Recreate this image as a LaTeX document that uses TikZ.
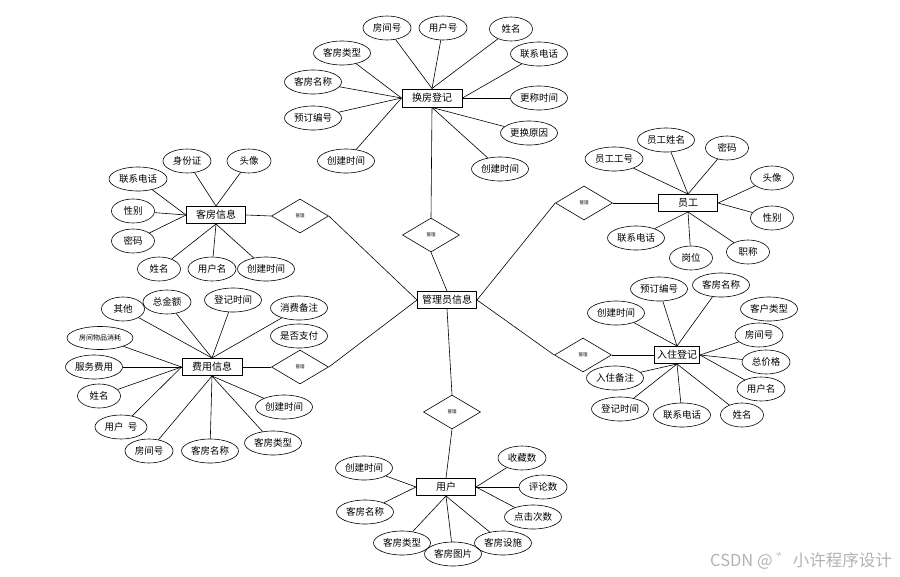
\documentclass[tikz,border=0pt]{standalone}
\usepackage{fontspec}
\newfontfamily\cjk{Noto Sans CJK SC}
\usetikzlibrary{shapes.geometric}
\begin{document}
\begin{tikzpicture}[x=1pt,y=-1pt,
  ent/.style={draw, line width=1pt, minimum width=59pt, minimum height=17pt, inner sep=0pt, font=\cjk\fontsize{10}{12}\selectfont},
  attr/.style={ellipse, draw, line width=0.6pt, minimum width=57pt, minimum height=24pt, inner sep=0pt, font=\cjk\fontsize{9.5}{11}\selectfont},
  rel/.style={diamond, draw, line width=0.6pt, minimum width=57pt, minimum height=34pt, inner sep=0pt, font=\cjk\fontsize{4.5}{5}\selectfont},
  conn/.style={line width=0.6pt}]
\useasboundingbox (0,0) rectangle (900,576);

% ---------- central entity
\node[ent] (admin) at (447,300) {管理员信息};

% ---------- 换房登记
\node[ent, minimum width=60pt, minimum height=18pt] (hf) at (432,98) {换房登记};
\node[attr, minimum width=48pt] (hf1) at (387,28) {房间号};
\node[attr, minimum width=48pt] (hf2) at (443,28) {用户号};
\node[attr, minimum width=43pt] (hf3) at (511,29) {姓名};
\node[attr] (hf4) at (539,54) {联系电话};
\node[attr] (hf5) at (342,53) {客房类型};
\node[attr] (hf6) at (313,82) {客房名称};
\node[attr] (hf7) at (313,118) {预订编号};
\node[attr] (hf8) at (346,161) {创建时间};
\node[attr] (hf9) at (539,98) {更称时间};
\node[attr] (hf10) at (529,133) {更换原因};
\node[attr] (hf11) at (500,169) {创建时间};
\foreach \a in {hf1,hf2,hf3} \draw[conn] (hf.north) -- (\a);
\foreach \a in {hf4,hf9} \draw[conn] (hf.east) -- (\a);
\foreach \a in {hf5,hf6,hf7,hf8} \draw[conn] (hf.west) -- (\a);
\foreach \a in {hf10,hf11} \draw[conn] (hf.south) -- (\a);
\node[rel] (r1) at (431,235) {管理};

% ---------- 客房信息
\node[ent] (kf) at (216,215) {客房信息};
\node[attr, minimum width=48pt] (kf1) at (187,161) {身份证};
\node[attr, minimum width=44pt] (kf2) at (249,161) {头像};
\node[attr, minimum width=58pt] (kf3) at (138,179) {联系电话};
\node[attr, minimum width=43pt] (kf4) at (133,211) {性别};
\node[attr, minimum width=43pt] (kf5) at (133,241) {密码};
\node[attr, minimum width=43pt] (kf6) at (159,269) {姓名};
\node[attr, minimum width=48pt] (kf7) at (212,269) {用户名};
\node[attr] (kf8) at (266,269) {创建时间};
\foreach \a in {kf1,kf2} \draw[conn] (kf.north) -- (\a);
\foreach \a in {kf3,kf4,kf5} \draw[conn] (kf.west) -- (\a);
\foreach \a in {kf6,kf7,kf8} \draw[conn] (kf.south) -- (\a);
\node[rel] (r2) at (300,216) {管理};

% ---------- 费用信息
\node[ent, minimum width=60pt] (fy) at (212,367) {费用信息};
\node[attr, minimum width=43pt] (fy1) at (123,309) {其他};
\node[attr, minimum width=48pt] (fy2) at (167,302) {总金额};
\node[attr] (fy3) at (233,300) {登记时间};
\node[attr] (fy4) at (299,308) {消费备注};
\node[attr] (fy5) at (299,336) {是否支付};
\node[attr, minimum width=66pt, minimum height=23pt, font=\cjk\fontsize{7}{8}\selectfont] (fy6) at (100,338) {房间物品消耗};
\node[attr] (fy7) at (94,367) {服务费用};
\node[attr, minimum width=43pt] (fy8) at (99,396) {姓名};
\node[attr, minimum width=52pt] (fy9) at (121,427) {用户\ \ 号};
\node[attr, minimum width=48pt] (fy10) at (149,451) {房间号};
\node[attr] (fy11) at (210,451) {客房名称};
\node[attr] (fy12) at (273,443) {客房类型};
\node[attr] (fy13) at (284,407) {创建时间};
\foreach \a in {fy1,fy2,fy3,fy4} \draw[conn] (fy.north) -- (\a);
\foreach \a in {fy6,fy7,fy8,fy9} \draw[conn] (fy.west) -- (\a);
\foreach \a in {fy10,fy11,fy12,fy13} \draw[conn] (fy.south) -- (\a);
\node[rel] (r3) at (300,367) {管理};

% ---------- 员工
\node[ent] (yg) at (688,203) {员工};
\node[attr, minimum width=58pt] (yg1) at (614,159) {员工工号};
\node[attr] (yg2) at (666,140) {员工姓名};
\node[attr, minimum width=43pt] (yg3) at (727,148) {密码};
\node[attr, minimum width=43pt] (yg4) at (772,178) {头像};
\node[attr, minimum width=43pt] (yg5) at (772,218) {性别};
\node[attr] (yg6) at (636,238) {联系电话};
\node[attr, minimum width=43pt] (yg7) at (691,258) {岗位};
\node[attr, minimum width=43pt] (yg8) at (748,252) {职称};
\foreach \a in {yg1,yg2,yg3} \draw[conn] (yg.north) -- (\a);
\foreach \a in {yg4,yg5} \draw[conn] (yg.east) -- (\a);
\foreach \a in {yg6,yg7,yg8} \draw[conn] (yg.south) -- (\a);
\node[rel] (r4) at (584,203) {管理};

% ---------- 入住登记
\node[ent, minimum width=45pt] (rz) at (677,355) {入住登记};
\node[attr] (rz1) at (616,313) {创建时间};
\node[attr] (rz2) at (659,289) {预订编号};
\node[attr] (rz3) at (721,285) {客房名称};
\node[attr] (rz4) at (769,309) {客户类型};
\node[attr, minimum width=48pt] (rz5) at (759,335) {房间号};
\node[attr, minimum width=48pt] (rz6) at (766,362) {总价格};
\node[attr, minimum width=48pt] (rz7) at (761,389) {用户名};
\node[attr, minimum width=43pt] (rz8) at (742,415) {姓名};
\node[attr] (rz9) at (682,415) {联系电话};
\node[attr] (rz10) at (620,409) {登记时间};
\node[attr] (rz11) at (615,378) {入住备注};
\foreach \a in {rz1,rz2,rz3} \draw[conn] (rz.north) -- (\a);
\foreach \a in {rz5,rz6,rz7} \draw[conn] (rz.east) -- (\a);
\foreach \a in {rz8,rz9,rz10,rz11} \draw[conn] (rz.south) -- (\a);
\node[rel] (r5) at (583,355) {管理};

% ---------- 用户
\node[ent] (yh) at (446,487) {用户};
\node[attr] (yh1) at (364,468) {创建时间};
\node[attr] (yh2) at (365,512) {客房名称};
\node[attr] (yh3) at (402,543) {客房类型};
\node[attr] (yh4) at (453,554) {客房图片};
\node[attr] (yh5) at (503,543) {客房设施};
\node[attr] (yh6) at (533,517) {点击次数};
\node[attr, minimum width=48pt] (yh7) at (543,487) {评论数};
\node[attr, minimum width=48pt] (yh8) at (522,458) {收藏数};
\foreach \a in {yh1,yh2} \draw[conn] (yh.west) -- (\a);
\foreach \a in {yh3,yh4,yh5} \draw[conn] (yh.south) -- (\a);
\foreach \a in {yh6,yh7,yh8} \draw[conn] (yh.east) -- (\a);
\node[rel] (r6) at (452,412) {管理};

% ---------- relationships
\draw[conn] (hf.south) -- (r1.north);
\draw[conn] (r1.south) -- (admin.north);
\draw[conn] (kf.east) -- (r2.west);
\draw[conn] (r2.east) -- (admin.west);
\draw[conn] (fy.east) -- (r3.west);
\draw[conn] (r3.east) -- (admin.west);
\draw[conn] (admin.east) -- (r4.west);
\draw[conn] (r4.east) -- (yg.west);
\draw[conn] (admin.east) -- (r5.west);
\draw[conn] (r5.east) -- (rz.west);
\draw[conn] (admin.south) -- (r6.north);
\draw[conn] (r6.south) -- (yh.north);

% ---------- watermark
\node[anchor=west, inner sep=0pt, text=black!30, font=\cjk\fontsize{16.5}{18}\selectfont] (wm) at (710,561) {CSDN @ ゛小许程序设计};
\end{tikzpicture}
\end{document}
